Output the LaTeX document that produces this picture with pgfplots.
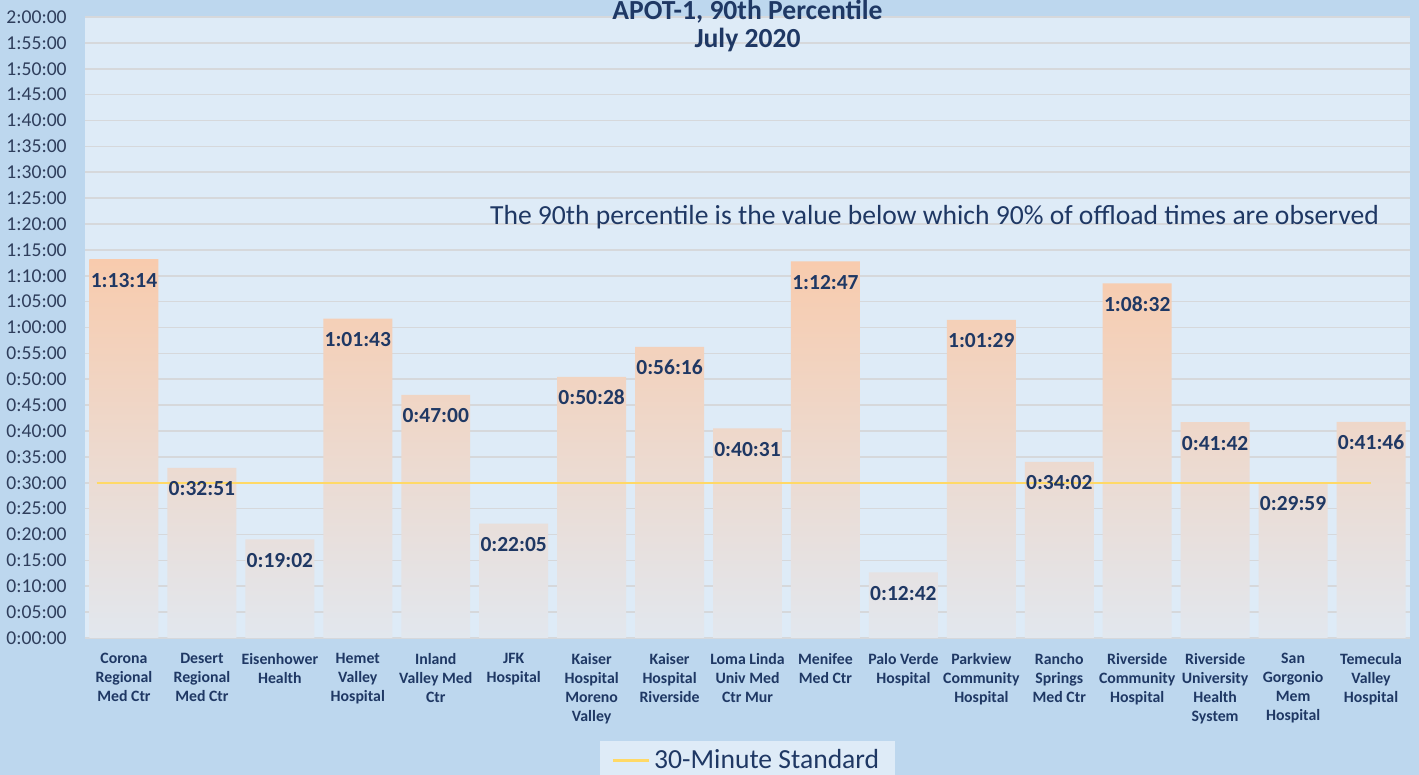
\documentclass[border=0pt]{standalone}
\usepackage{pgfplots}
\usepackage{pgfplotstable}
\pgfplotsset{compat=1.18}
\usepackage{fontspec}
\setmainfont{Carlito}
\definecolor{outerbg}{HTML}{BDD7EE}
\definecolor{innerbg}{HTML}{DEEBF7}
\definecolor{navy}{HTML}{1F3864}
\definecolor{tickc}{HTML}{2F3E5C}
\definecolor{gridc}{HTML}{D6D8DB}
\definecolor{barTop}{HTML}{F8CBAD}
\definecolor{barMid}{HTML}{F2D2C0}
\definecolor{barBot}{HTML}{E2E7EE}
\definecolor{stdline}{HTML}{FFD966}

\pgfplotstableread{
x val lab
0 73.233 1:13:14
1 32.850 0:32:51
2 19.033 0:19:02
3 61.717 1:01:43
4 47.000 0:47:00
5 22.083 0:22:05
6 50.467 0:50:28
7 56.267 0:56:16
8 40.517 0:40:31
9 72.783 1:12:47
10 12.700 0:12:42
11 61.483 1:01:29
12 34.033 0:34:02
13 68.533 1:08:32
14 41.700 0:41:42
15 29.983 0:29:59
16 41.767 0:41:46
}\data

\begin{document}
\begin{tikzpicture}
\useasboundingbox (0pt,0pt) rectangle (709.5pt,387.5pt);
\fill[outerbg] (0pt,0pt) rectangle (709.5pt,387.5pt);
\begin{scope}
\clip (0pt,0pt) rectangle (709.5pt,387.5pt);
\begin{axis}[
  at={(42.5pt,68.5pt)}, anchor=south west,
  scale only axis, width=662.5pt, height=310.5pt,
  xmin=-0.5, xmax=16.5, ymin=0, ymax=120,
  axis background/.style={fill=innerbg},
  axis line style={draw=none},
  major tick length=0pt,
  ymajorgrids, grid style={gridc, line width=0.8pt},
  ytick={0,5,...,120},
  yticklabels={0:00:00,0:05:00,0:10:00,0:15:00,0:20:00,0:25:00,0:30:00,0:35:00,0:40:00,0:45:00,0:50:00,0:55:00,1:00:00,1:05:00,1:10:00,1:15:00,1:20:00,1:25:00,1:30:00,1:35:00,1:40:00,1:45:00,1:50:00,1:55:00,2:00:00},
  yticklabel style={font=\fontsize{9.8}{12}\selectfont, text=tickc, anchor=east, inner sep=0pt, xshift=-9pt},
  xtick={0,...,16},
  xticklabels={{Corona\\Regional\\Med Ctr},{Desert\\Regional\\Med Ctr},{Eisenhower\\Health},{Hemet\\Valley\\Hospital},{Inland\\Valley Med\\Ctr},{JFK\\Hospital},{Kaiser\\Hospital\\Moreno\\Valley},{Kaiser\\Hospital\\Riverside},{Loma Linda\\Univ Med\\Ctr Mur},{Menifee\\Med Ctr},{Palo Verde\\Hospital},{Parkview\\Community\\Hospital},{Rancho\\Springs\\Med Ctr},{Riverside\\Community\\Hospital},{Riverside\\University\\Health\\System},{San\\Gorgonio\\Mem\\Hospital},{Temecula\\Valley\\Hospital}},
  xticklabel style={font=\bfseries\fontsize{7.9}{9.5}\selectfont, text=navy, align=center, anchor=north, inner sep=0pt, yshift=-7.5pt},
  legend style={at={(0.5,-0.166)}, anchor=north, fill=innerbg, draw=none, font=\fontsize{13.8}{16}\selectfont, text=navy, inner xsep=6pt, inner ysep=2pt},
  legend image code/.code={\draw[#1] (0pt,0pt) -- (18pt,0pt);},
]
\addplot[ybar, bar width=0.885, draw=none, top color=barTop, middle color=barMid, bottom color=barBot, forget plot] table[x=x,y=val]{\data};
\addplot[stdline, line width=1.2pt] coordinates {(-0.35,30) (16,30)};
\addlegendentry{30-Minute Standard}
\addplot[draw=none, mark=none, forget plot, nodes near coords, point meta=explicit symbolic,
  every node near coord/.append style={anchor=base, yshift=-14pt, font=\bfseries\fontsize{10.75}{12}\selectfont, text=navy}]
  table[x=x,y=val,meta=lab]{\data};
\end{axis}
\node[anchor=base west, font=\fontsize{13.8}{16}\selectfont, text=navy] at (241.5pt,275pt) {The 90th percentile is the value below which 90\% of offload times are observed};
\node[anchor=base, font=\bfseries\fontsize{13.8}{16}\selectfont, text=navy] at (373.75pt,377.5pt) {APOT-1, 90th Percentile};
\node[anchor=base, font=\bfseries\fontsize{13.8}{16}\selectfont, text=navy] at (373.75pt,363.5pt) {July 2020};
\end{scope}
\end{tikzpicture}
\end{document}
